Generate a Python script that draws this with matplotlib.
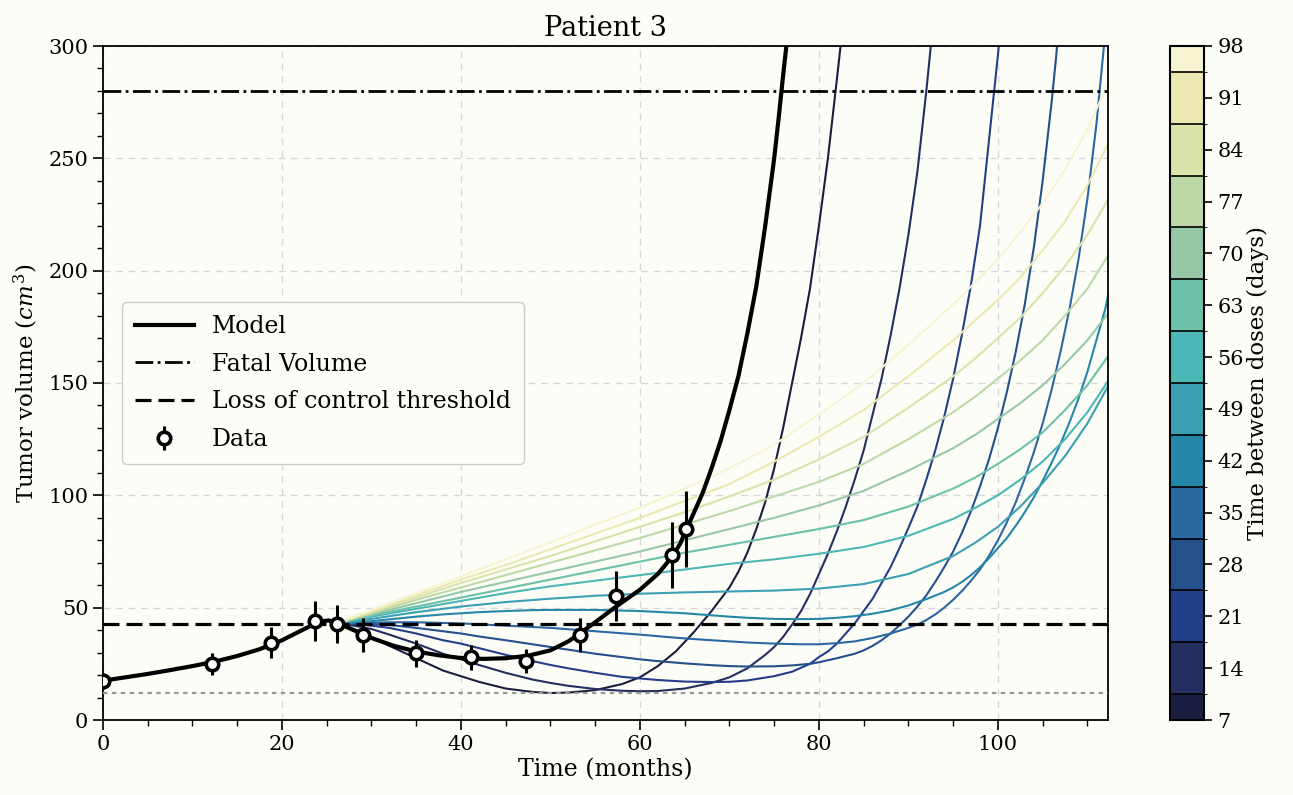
import matplotlib
matplotlib.use("Agg")
import matplotlib.pyplot as plt
from matplotlib.colors import ListedColormap, BoundaryNorm
from matplotlib.cm import ScalarMappable
from matplotlib.ticker import MultipleLocator
from matplotlib.lines import Line2D

plt.rcParams['font.family'] = ['DejaVu Serif']
plt.rcParams['mathtext.fontset'] = 'dejavuserif'

# ---------------- data ----------------
t_data = [0, 12.2, 18.8, 23.7, 26.1, 29.0, 35.0, 41.1, 47.3, 53.3, 57.3, 63.6, 65.2]
v_data = [17.4, 24.9, 34.3, 44.1, 42.7, 37.8, 29.8, 28.0, 26.3, 38.0, 55.2, 73.4, 85.0]
e_data = [3.5, 5.0, 6.9, 8.8, 8.5, 7.6, 6.0, 5.6, 5.3, 7.6, 11.0, 14.7, 17.0]

t_model = [0, 2.5, 5, 7.5, 10, 12.5, 15, 17.5, 20, 22, 23.5, 24.5, 25.2, 26, 27, 28, 30, 32.5,
           35, 37.5, 40, 42.5, 45, 47.5, 50, 52, 53.2, 55, 57.3, 60, 62, 63.6, 64.5, 65.2, 66,
           67, 68, 69, 70, 71, 72, 73, 74, 75, 75.5, 76, 76.5, 77]
v_model = [17.5, 19, 20.5, 22.2, 24, 26, 28.5, 31.5, 35.5, 39.5, 42.5, 44, 44.3, 43.5, 41.8,
           40, 36.5, 33, 30.5, 28.8, 27.6, 27.2, 27.5, 28.6, 31, 35, 38.3, 43.5, 50.4, 58, 65,
           72.7, 78.5, 85, 92, 101, 112, 124, 138, 153, 172, 193, 220, 250, 268, 287, 305, 325]

fatal_volume = 280
loss_threshold = 42.8
min_volume = 12

doses = [7, 14, 21, 28, 35, 42, 49, 56, 63, 70, 77, 84, 91, 98]

t_d7 = [26, 28, 30, 32, 35, 38, 40, 42, 45, 48, 50, 52, 55, 58, 60, 62, 64, 66, 68, 70, 71, 72,
        73, 74, 75, 76, 77, 78, 79, 80, 81, 82, 82.5, 83]
v_d7 = [43, 40.5, 37, 33, 27.5, 22, 19.5, 17, 14, 12.5, 12, 12.2, 13.3, 16, 19, 24, 30.5, 39,
        48.5, 59, 66, 74.5, 85, 97, 112, 130, 150, 170, 192, 220, 250, 285, 303, 322]

t_d14 = [26, 28, 30, 32, 35, 38, 40, 42, 45, 48, 50, 52, 55, 58, 60, 62, 65, 68, 70, 72, 74, 75,
         76, 77, 78, 79, 80, 81, 82, 83, 84, 85, 86, 87, 88, 89, 90, 91, 92, 92.5, 93]
v_d14 = [43, 42, 40.5, 38, 34, 29.5, 27, 24.5, 21, 18, 16.5, 15.2, 13.8, 13, 12.8, 12.9, 14,
         16.5, 19, 23, 29, 32.5, 37, 42.5, 48.5, 56, 65, 74, 84, 95, 107, 120, 136, 152, 171,
         192, 216, 244, 280, 300, 320]

t_d21 = [26, 28, 30, 32, 35, 38, 40, 42, 45, 48, 50, 52, 55, 58, 60, 62, 65, 68, 70, 72, 75, 77,
         79, 80, 81, 82, 83, 84, 85, 86, 87, 88, 89, 90, 91, 92, 93, 94, 95, 96, 97, 98, 99,
         100, 100.3, 101]
v_d21 = [43, 42.8, 42, 41, 38.5, 35.5, 34, 32, 29, 26.2, 24.5, 23, 21, 19.2, 18.5, 17.8, 17.1,
         16.9, 17, 17.6, 19.5, 21.5, 25, 28, 30.5, 34, 38.5, 43, 48.5, 54, 61, 68, 76.5, 85.5,
         95, 107, 120, 135, 152, 172, 194, 220, 258, 296, 308, 335]

t_d28 = [26, 28, 30, 32, 35, 38, 40, 42, 45, 48, 50, 52, 55, 58, 60, 62, 65, 68, 70, 72, 75, 77,
         79, 80, 82, 84, 85, 86, 87, 88, 89, 90, 91, 92, 93, 94, 95, 96, 97, 98, 99, 100, 101,
         102, 103, 104, 105, 106, 106.5, 107]
v_d28 = [43, 43, 42.8, 42.3, 41, 39.5, 38.5, 37.2, 35.5, 33.7, 32.5, 31.3, 29.5, 28, 27, 26.2,
         25.2, 24.4, 24, 23.8, 23.9, 24.3, 25, 25.7, 27.5, 29.5, 31, 33, 35.5, 38.5, 42.2, 46,
         50.5, 55.5, 61.5, 68, 75, 83.5, 93, 104, 116, 130, 146, 164, 185, 210, 240, 275, 295, 318]

t_d35 = [26, 28, 30, 32, 35, 38, 40, 42, 45, 48, 50, 52, 55, 58, 60, 62, 65, 68, 70, 72, 75, 78,
         80, 82, 84, 86, 88, 90, 91, 92, 93, 94, 95, 96, 97, 98, 99, 100, 101, 102, 103, 104,
         105, 106, 107, 108, 109, 110, 111, 111.8, 112.5]
v_d35 = [43, 43.2, 43.3, 43.5, 43.5, 43.2, 43, 42.6, 42, 41.4, 41, 40.4, 39.5, 38.6, 38, 37.3,
         36.3, 35.5, 35, 34.5, 34, 33.7, 33.7, 34.2, 35, 36.5, 38.5, 41, 42.5, 44.5, 47, 50,
         53.5, 57.5, 62, 67, 73, 80, 88, 97, 107.5, 119, 132, 147, 164, 183, 205, 232, 265,
         298, 330]

t_d42 = [26, 28, 30, 32, 35, 38, 40, 42, 45, 48, 50, 52, 55, 58, 60, 62, 65, 68, 70, 72, 75, 78,
         80, 82, 84, 86, 88, 90, 92, 94, 95, 96, 97, 98, 99, 100, 101, 102, 103, 104, 105, 106,
         107, 108, 109, 110, 111, 112, 112.5]
v_d42 = [43, 43.5, 44, 44.8, 46, 47, 47.5, 48, 48.5, 48.9, 49, 49, 49, 48.7, 48.5, 48.1, 47.5,
         46.6, 46, 45.5, 45, 44.9, 45, 45.5, 46.2, 47.3, 48.8, 51, 53.8, 57, 59, 61.5, 64.5, 68,
         72, 76.5, 81, 86.5, 92.5, 99, 106.5, 114.5, 123, 132.5, 143, 155, 169, 183, 193]

t_grid = [26, 30, 35, 40, 45, 50, 55, 60, 65, 70, 75, 80, 85, 90, 95, 97.5, 100, 102.5, 105,
          107.5, 110, 112.5]
v_d49 = [43, 45, 48, 50.5, 52.5, 54, 55.3, 56.2, 56.8, 57.2, 57.6, 58.5, 60.5, 65, 73, 79, 86,
         95, 105.5, 117.5, 132, 150]
v_d56 = [43, 46, 49.5, 53, 56.5, 59.5, 62, 64.5, 67, 69.5, 71.5, 74, 77, 82, 89.5, 94.5, 100,
         107, 115, 125, 137, 152]
v_d63 = [43, 46.5, 50.5, 54.5, 58.5, 62.5, 66.5, 70.5, 74.5, 78, 81.5, 85, 89, 95, 103, 108,
         114, 120.5, 128, 138, 149, 163]
v_d70 = [43, 47, 52, 57, 61.5, 66, 70.5, 75, 80, 85, 90, 95.5, 102, 111, 121, 127, 134, 141,
         149, 158.5, 169, 182]
v_d77 = [43, 47.5, 53.5, 59, 64.5, 70, 75.5, 81, 87, 93, 99.5, 106, 114, 125, 137, 144, 152,
         160, 169, 180, 192, 208]
v_d84 = [43, 48, 54.5, 61, 67, 73, 79.5, 86, 92.5, 99.5, 107, 116, 126, 139, 153, 161, 170,
         179, 190, 202, 216, 233]
v_d91 = [43, 48.5, 55.5, 62.5, 69, 76, 83, 90, 97.5, 105, 115, 126, 138, 153, 169, 178, 187,
         197, 209, 222, 238, 258]
v_d98 = [43, 49, 56.5, 64, 71.5, 79, 87, 94.5, 103, 112, 122.5, 136, 150, 167, 185, 195, 205,
         217, 230, 245, 263, 285]

curve_times = [t_d7, t_d14, t_d21, t_d28, t_d35, t_d42,
               t_grid, t_grid, t_grid, t_grid, t_grid, t_grid, t_grid, t_grid]
curve_values = [v_d7, v_d14, v_d21, v_d28, v_d35, v_d42,
                v_d49, v_d56, v_d63, v_d70, v_d77, v_d84, v_d91, v_d98]

dose_colors = ['#1b1f3f', '#252f5f', '#223f87', '#24508c', '#2b67a0', '#2587a8', '#3ba0b3',
               '#4cb7b4', '#6cc1ab', '#96c8a8', '#bdd9a6', '#d9e3aa', '#ebe8b2', '#f7f4d2']

# ---------------- figure ----------------
bg = '#fdfdf8'
fig = plt.figure(figsize=(12.93, 7.95), dpi=100, facecolor=bg)
ax = fig.add_axes([103 / 1293, 75 / 795, 1005 / 1293, 674 / 795])
ax.set_facecolor(bg)
cax = fig.add_axes([1170 / 1293, 75 / 795, 34 / 1293, 674 / 795])

cmap = ListedColormap(dose_colors)
bounds = [doses[0]] + [d + 3.5 for d in doses[:-1]] + [doses[-1]]
norm = BoundaryNorm(bounds, cmap.N)

for d, tt, vv in zip(doses, curve_times, curve_values):
    ax.plot(tt, vv, color=cmap(norm(d)), lw=1.5, zorder=2, solid_joinstyle='round')

ax.plot(t_model, v_model, color='black', lw=3, zorder=4, solid_joinstyle='round')
ax.axhline(fatal_volume, color='black', ls='-.', lw=2, zorder=3)
ax.axhline(loss_threshold, color='black', ls=(0, (5, 2.2)), lw=2.3, zorder=3)
ax.axhline(min_volume, color='#999999', ls=(0, (2, 2)), lw=1.6, zorder=3)

ax.errorbar(t_data, v_data, yerr=e_data, fmt='o', mfc='white', mec='black', mew=2.6, ms=9,
            ecolor='black', elinewidth=2.2, capsize=0, zorder=6)

ax.set_xlim(0, 112.3)
ax.set_ylim(0, 300)
ax.xaxis.set_major_locator(MultipleLocator(20))
ax.xaxis.set_minor_locator(MultipleLocator(5))
ax.yaxis.set_major_locator(MultipleLocator(50))
ax.yaxis.set_minor_locator(MultipleLocator(10))
ax.tick_params(which='major', length=7, width=1.2, labelsize=15, direction='out')
ax.tick_params(which='minor', length=4, width=1.0, direction='out')
ax.grid(True, which='major', color='#d6d6de', ls=(0, (5, 4)), lw=1, zorder=0)
for s in ax.spines.values():
    s.set_linewidth(1.3)

ax.set_title('Patient 3', fontsize=19.5, pad=7)
ax.set_xlabel('Time (months)', fontsize=17, labelpad=3)
ax.set_ylabel('Tumor volume ($cm^3$)', fontsize=16.5, labelpad=6)

eb = ax.errorbar([], [], yerr=[], fmt='o', mfc='white', mec='black', mew=2.6, ms=9,
                 ecolor='black', elinewidth=2.2, capsize=0)
handles = [
    Line2D([], [], color='black', lw=3),
    Line2D([], [], color='black', ls='-.', lw=2),
    Line2D([], [], color='black', ls=(0, (5, 2.2)), lw=2.3),
    eb,
]
leg = ax.legend(handles, ['Model', 'Fatal Volume', 'Loss of control threshold', 'Data'],
                loc='center left', bbox_to_anchor=(0.007, 0.5), fontsize=17,
                frameon=True, fancybox=True, framealpha=1, facecolor=bg,
                edgecolor='#cccccc', handlelength=2.5, handletextpad=0.75,
                borderpad=0.55, labelspacing=0.62)
leg.get_frame().set_linewidth(1.0)

sm = ScalarMappable(norm=norm, cmap=cmap)
cb = fig.colorbar(sm, cax=cax, ticks=doses, spacing='proportional', drawedges=True)
cb.outline.set_linewidth(1.5)
cb.dividers.set_color('black')
cb.dividers.set_linewidth(1.2)
cb.ax.tick_params(labelsize=15, length=6, width=1.2)
cb.set_label('Time between doses (days)', fontsize=16.5, labelpad=2)

fig.savefig('out.png', dpi=100, facecolor=bg)
